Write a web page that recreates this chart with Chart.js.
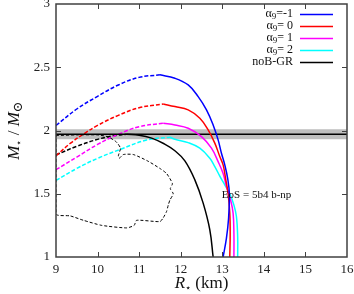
<!DOCTYPE html>
<html>
<head>
<meta charset="utf-8">
<script src="https://cdn.jsdelivr.net/npm/chart.js@4.4.0/dist/chart.umd.min.js"></script>
<style>
  html, body { margin: 0; padding: 0; background: #fff; }
</style>
</head>
<body>
<canvas id="myChart" width="354" height="294"></canvas>
<script>
// tick values
const rTicks = [9, 10, 11, 12, 13, 14, 15, 16];
const mTicks = [1, 1.5, 2, 2.5, 3];

// legend labels (alpha_9 values, gnuplot style)
const alphaLabels = ['-1', ' 0', ' 1', ' 2'];
const grLabel = 'noB-GR';
const eosLabel = 'EoS = 5b4 b-np';

// alpha_9 = -1 (blue)
const am1UnstR = [9.0, 9.5, 10.0, 10.5, 11.0, 11.5];
const am1UnstM = [2.04, 2.17, 2.27, 2.36, 2.42, 2.44];
const am1StabR = [11.5, 11.86, 12.18, 12.42, 12.62, 12.78, 12.90, 12.98, 13.06, 13.13, 13.17, 13.15, 13.10, 13.02];
const am1StabM = [2.44, 2.413, 2.36, 2.268, 2.163, 2.044, 1.926, 1.82, 1.728, 1.62, 1.50, 1.30, 1.15, 1.0];

// alpha_9 = 0 (red)
const a0UnstR = [9.0, 9.35, 9.7, 10.0, 10.5, 11.0, 11.58];
const a0UnstM = [1.80, 1.90, 1.98, 2.04, 2.12, 2.18, 2.21];
const a0StabR = [11.58, 11.86, 12.18, 12.46, 12.66, 12.82, 12.94, 13.02, 13.08, 13.14, 13.18, 13.19, 13.18];
const a0StabM = [2.21, 2.189, 2.163, 2.097, 2.005, 1.90, 1.794, 1.728, 1.62, 1.50, 1.35, 1.18, 1.0];

// alpha_9 = 1 (magenta)
const a1UnstR = [9.0, 9.5, 10.0, 10.5, 11.0, 11.58];
const a1UnstM = [1.69, 1.79, 1.89, 1.97, 2.03, 2.058];
const a1StabR = [11.58, 11.86, 12.18, 12.50, 12.74, 12.90, 13.02, 13.10, 13.20, 13.26, 13.28, 13.28];
const a1StabM = [2.058, 2.044, 2.018, 1.952, 1.86, 1.754, 1.66, 1.557, 1.45, 1.347, 1.18, 1.0];

// alpha_9 = 2 (cyan)
const a2UnstR = [9.0, 9.5, 10.0, 10.54, 11.18, 11.74];
const a2UnstM = [1.605, 1.70, 1.78, 1.85, 1.925, 1.947];
const a2StabR = [11.74, 11.86, 12.18, 12.46, 12.70, 12.82, 12.94, 13.06, 13.18, 13.28, 13.34, 13.37, 13.37];
const a2StabM = [1.947, 1.931, 1.904, 1.86, 1.78, 1.715, 1.64, 1.57, 1.50, 1.41, 1.32, 1.16, 1.0];

// no field, GR (black)
const grUnstR = [9.0, 9.5, 10.0, 10.4, 10.7];
const grUnstM = [1.807, 1.875, 1.93, 1.96, 1.97];
const grStabR = [10.7, 11.0, 11.3, 11.6, 11.86, 12.10, 12.34, 12.54, 12.70, 12.78];
const grStabM = [1.97, 1.963, 1.94, 1.895, 1.84, 1.76, 1.61, 1.426, 1.215, 1.0];

// dashed contour
const contourR = [9.0, 9.5, 10.0, 10.25, 10.45, 10.55, 10.5, 10.52, 10.62, 10.86, 11.2, 11.5, 11.66, 11.8, 11.75,
  11.82, 11.74, 11.7, 11.66, 11.58, 11.5, 10.94, 10.88, 10.7, 10.1, 9.66, 9.34, 9.0, 9.0];
const contourM = [1.96, 1.965, 1.965, 1.95, 1.91, 1.86, 1.80, 1.78, 1.81, 1.81, 1.76, 1.70, 1.66, 1.58, 1.54,
  1.5, 1.45, 1.41, 1.36, 1.31, 1.28, 1.29, 1.25, 1.23, 1.25, 1.29, 1.325, 1.34, 1.96];

// observed mass band 1.97 +- 0.04
const bandR = [9, 16];
const bandMid = 1.97;
const bandLow = 1.93;
const bandHigh = 2.01;

const colors = ['#0000ff', '#ff0000', '#ff00ff', '#00ffff', '#000000'];
const serif = "'Liberation Serif', 'DejaVu Serif', serif";

function xy(rs, ms) {
    return rs.map((r, i) => ({ x: r, y: ms[i] }));
}

function branch(rs, ms, color, dash, width) {
    return {
        data: xy(rs, ms),
        borderColor: color,
        borderWidth: width || 1.5,
        borderDash: dash || [],
        showLine: true,
        pointRadius: 0,
        tension: 0.4,
        fill: false
    };
}

const stable = [
    branch(am1StabR, am1StabM, colors[0]),
    branch(a0StabR, a0StabM, colors[1]),
    branch(a1StabR, a1StabM, colors[2]),
    branch(a2StabR, a2StabM, colors[3]),
    branch(grStabR, grStabM, colors[4])
];
const unstable = [
    branch(am1UnstR, am1UnstM, colors[0], [4, 2]),
    branch(a0UnstR, a0UnstM, colors[1], [4, 2]),
    branch(a1UnstR, a1UnstM, colors[2], [4, 2]),
    branch(a2UnstR, a2UnstM, colors[3], [4, 2]),
    branch(grUnstR, grUnstM, colors[4], [4, 2])
];
const contour = branch(contourR, contourM, '#000', [3, 2], 1);
contour.tension = 0.2;

const midLine = branch(bandR, bandR.map(() => bandMid), '#000', [], 1.5);
midLine.tension = 0;
const bandTop = {
    data: xy(bandR, bandR.map(() => bandHigh)),
    showLine: true, pointRadius: 0, borderWidth: 0,
    backgroundColor: '#bebebe', fill: '+1'
};
const bandBottom = {
    data: xy(bandR, bandR.map(() => bandLow)),
    showLine: true, pointRadius: 0, borderWidth: 0, fill: false
};

// draw a line of mixed-font text, centred at (cx, cy)
function richText(ctx, parts, cx, cy) {
    let total = 0;
    parts.forEach(p => { ctx.font = p.font; p.w = ctx.measureText(p.t).width; total += p.w; });
    let x = cx - total / 2;
    ctx.textAlign = 'left';
    ctx.textBaseline = 'middle';
    parts.forEach(p => {
        ctx.font = p.font;
        ctx.fillText(p.t, x, cy + (p.dy || 0));
        x += p.w;
    });
}

const decor = {
    id: 'decor',
    afterDraw(chart) {
        const { ctx, chartArea: a, scales: { x, y } } = chart;
        ctx.save();

        // frame
        ctx.strokeStyle = '#404040';
        ctx.lineWidth = 1.5;
        ctx.strokeRect(a.left, a.top, a.right - a.left, a.bottom - a.top);

        // inward ticks, mirrored
        ctx.lineWidth = 1;
        ctx.beginPath();
        rTicks.slice(1, -1).forEach(v => {
            const px = Math.round(x.getPixelForValue(v)) + 0.5;
            ctx.moveTo(px, a.bottom); ctx.lineTo(px, a.bottom - 5);
            ctx.moveTo(px, a.top); ctx.lineTo(px, a.top + 5);
        });
        mTicks.slice(1, -1).forEach(v => {
            const py = Math.round(y.getPixelForValue(v)) + 0.5;
            ctx.moveTo(a.left, py); ctx.lineTo(a.left + 5, py);
            ctx.moveTo(a.right, py); ctx.lineTo(a.right - 5, py);
        });
        ctx.stroke();

        ctx.fillStyle = '#111';

        // x title
        richText(ctx, [
            { t: 'R', font: 'italic 17px ' + serif },
            { t: '\u22c6', font: '10px ' + serif, dy: 4 },
            { t: ' (km)', font: '17px ' + serif }
        ], (a.left + a.right) / 2, 284);

        // y title
        ctx.save();
        ctx.translate(15, (a.top + a.bottom) / 2);
        ctx.rotate(-Math.PI / 2);
        richText(ctx, [
            { t: 'M', font: 'italic 17px ' + serif },
            { t: '\u22c6', font: '10px ' + serif, dy: 4 },
            { t: ' / ', font: '17px ' + serif },
            { t: 'M', font: 'italic 17px ' + serif },
            { t: '\u2299', font: '13px ' + serif, dy: 4 }
        ], 0, 0);
        ctx.restore();

        // legend
        const rows = alphaLabels.map(v => ({ alpha: true, v: v })).concat([{ alpha: false, v: grLabel }]);
        rows.forEach((row, i) => {
            const ry = a.top + 10 + i * 12;
            const tx = a.right - 54;
            ctx.textBaseline = 'middle';
            ctx.textAlign = 'right';
            ctx.fillStyle = '#111';
            if (row.alpha) {
                ctx.font = '12px ' + serif;
                const rest = '=' + row.v;
                ctx.fillText(rest, tx, ry);
                let w = ctx.measureText(rest).width;
                ctx.font = '9px ' + serif;
                ctx.fillText('9', tx - w, ry + 3);
                w += ctx.measureText('9').width;
                ctx.font = '12px ' + serif;
                ctx.fillText('\u03b1', tx - w, ry);
            } else {
                ctx.font = '12px ' + serif;
                ctx.fillText(row.v, tx, ry);
            }
            ctx.strokeStyle = colors[i];
            ctx.lineWidth = 1.5;
            ctx.beginPath();
            ctx.moveTo(a.right - 47, ry + 0.5);
            ctx.lineTo(a.right - 14, ry + 0.5);
            ctx.stroke();
        });

        // EoS label
        ctx.font = '11px ' + serif;
        ctx.textAlign = 'left';
        ctx.textBaseline = 'middle';
        ctx.fillStyle = '#111';
        ctx.fillText(eosLabel, x.getPixelForValue(12.99), y.getPixelForValue(1.49));

        ctx.restore();
    }
};

function fixedTicks(values) {
    return scale => { scale.ticks = values.map(v => ({ value: v })); };
}

const ctx = document.getElementById('myChart').getContext('2d');
const chart = new Chart(ctx, {
    type: 'scatter',
    data: {
        datasets: stable.concat([midLine, contour]).concat(unstable).concat([bandTop, bandBottom])
    },
    options: {
        responsive: false,
        animation: false,
        layout: { padding: { top: 4, right: 7, left: 0, bottom: 0 } },
        plugins: { legend: { display: false }, tooltip: { enabled: false } },
        scales: {
            x: {
                type: 'linear', min: 9, max: 16,
                grid: { display: false, drawTicks: false },
                border: { display: false },
                afterBuildTicks: fixedTicks(rTicks),
                ticks: { font: { family: serif, size: 13 }, color: '#222', padding: 5, maxRotation: 0, autoSkip: false,
                    callback: v => String(v) },
                afterFit: s => { s.height = 37; s.paddingLeft = 0; s.paddingRight = 0; }
            },
            y: {
                type: 'linear', min: 1, max: 3,
                grid: { display: false, drawTicks: false },
                border: { display: false },
                afterBuildTicks: fixedTicks(mTicks),
                ticks: { font: { family: serif, size: 13 }, color: '#222', padding: 6, autoSkip: false,
                    callback: v => String(v) },
                afterFit: s => { s.width = 56; s.paddingTop = 0; s.paddingBottom = 0; }
            }
        }
    },
    plugins: [decor]
});
</script>
</body>
</html>
